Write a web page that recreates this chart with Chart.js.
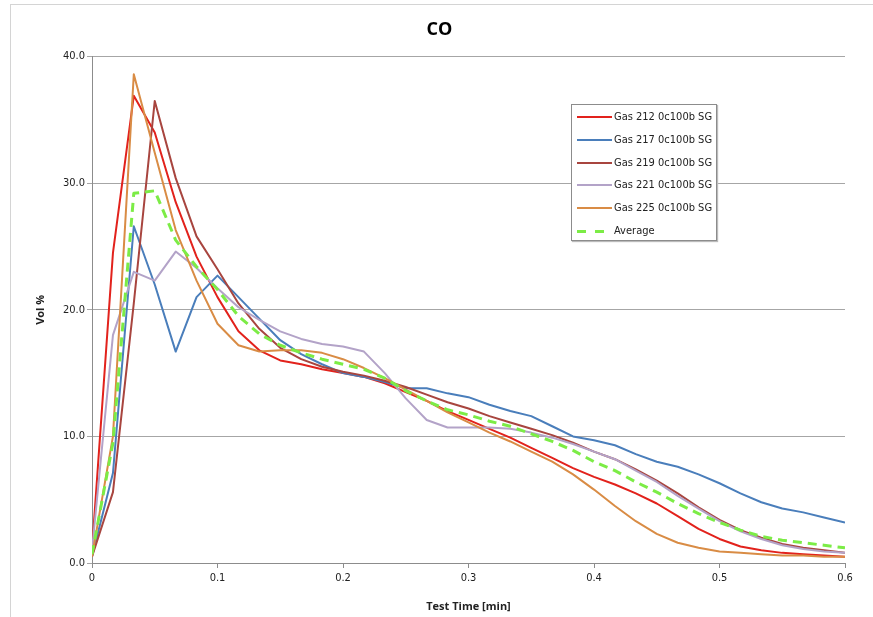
<!DOCTYPE html>
<html>
<head>
<meta charset="utf-8">
<script src="https://cdn.jsdelivr.net/npm/chart.js@4/dist/chart.umd.min.js"></script>
<style>
  body { margin: 0; background: #fff; }
  #wrap { position: relative; width: 873px; height: 617px; overflow: hidden; }
  #frame { position: absolute; left: 10px; top: 4px; right: -5px; bottom: -5px; border: 1px solid #d4d4d4; }
  canvas { position: absolute; left: 0; top: 0; }
  #legend {
    position: absolute; left: 571px; top: 104px; width: 144px; height: 135px;
    border: 1px solid #8c8c8c; background: #fff; box-shadow: 1px 1px 1px #bbb;
    font: 11px "Liberation Sans Narrow", "DejaVu Sans Condensed", "Liberation Sans", sans-serif; color: #222;
  }
  .item { position: absolute; left: 5px; height: 14px; line-height: 14px; white-space: nowrap; }
  .swatch { display: inline-block; width: 35px; height: 2px; vertical-align: middle; margin-right: 2px; }
</style>
</head>
<body>
<div id="wrap">
  <div id="frame"></div>
  <canvas id="coChart" width="873" height="617"></canvas>
  <div id="legend"></div>
</div>
<script>
// test time in minutes (one reading per second)
const times = [0, 0.0167, 0.0333, 0.05, 0.0667, 0.0833, 0.1, 0.1167, 0.1333, 0.15, 0.1667, 0.1833,
  0.2, 0.2167, 0.2333, 0.25, 0.2667, 0.2833, 0.3, 0.3167, 0.3333, 0.35, 0.3667, 0.3833,
  0.4, 0.4167, 0.4333, 0.45, 0.4667, 0.4833, 0.5, 0.5167, 0.5333, 0.55, 0.5667, 0.5833, 0.6];

const gas212 = [1.0, 24.5, 36.9, 34.0, 28.5, 24.2, 21.0, 18.3, 16.8, 16.0, 15.7, 15.3,
  15.0, 14.7, 14.2, 13.5, 12.8, 12.0, 11.3, 10.6, 9.9, 9.1, 8.3, 7.5,
  6.8, 6.2, 5.5, 4.7, 3.7, 2.7, 1.9, 1.3, 1.0, 0.8, 0.7, 0.6, 0.5];
const gas217 = [0.5, 7.1, 26.6, 22.0, 16.7, 21.0, 22.7, 21.0, 19.3, 17.6, 16.5, 15.7,
  15.0, 14.7, 14.3, 13.8, 13.8, 13.4, 13.1, 12.5, 12.0, 11.6, 10.8, 10.0,
  9.7, 9.3, 8.6, 8.0, 7.6, 7.0, 6.3, 5.5, 4.8, 4.3, 4.0, 3.6, 3.2];
const gas219 = [0.5, 5.6, 20.5, 36.5, 30.4, 25.8, 23.2, 20.5, 18.5, 17.0, 16.1, 15.5,
  15.1, 14.8, 14.4, 13.9, 13.3, 12.7, 12.2, 11.6, 11.1, 10.6, 10.1, 9.5,
  8.8, 8.2, 7.4, 6.5, 5.5, 4.4, 3.4, 2.6, 2.0, 1.5, 1.2, 1.0, 0.8];
const gas221 = [1.0, 18.0, 23.0, 22.3, 24.6, 23.3, 21.7, 20.2, 19.2, 18.3, 17.7, 17.3,
  17.1, 16.7, 15.0, 13.0, 11.3, 10.7, 10.7, 10.7, 10.6, 10.3, 9.9, 9.4,
  8.8, 8.2, 7.3, 6.4, 5.3, 4.3, 3.3, 2.5, 1.9, 1.4, 1.1, 0.9, 0.8];
const gas225 = [0.5, 10.0, 38.6, 32.4, 26.3, 22.3, 18.9, 17.2, 16.7, 16.8, 16.8, 16.6,
  16.1, 15.4, 14.6, 13.7, 12.8, 11.9, 11.1, 10.3, 9.6, 8.8, 8.0, 7.0,
  5.8, 4.5, 3.3, 2.3, 1.6, 1.2, 0.9, 0.8, 0.7, 0.6, 0.6, 0.5, 0.5];
const average = [0.7, 9.5, 29.2, 29.4, 25.5, 23.4, 21.6, 19.5, 18.1, 17.2, 16.6, 16.1,
  15.7, 15.3, 14.6, 13.6, 12.8, 12.1, 11.7, 11.2, 10.8, 10.2, 9.6, 8.9,
  8.0, 7.3, 6.4, 5.6, 4.7, 3.9, 3.2, 2.6, 2.1, 1.8, 1.6, 1.4, 1.2];

const seriesNames = ['Gas 212 0c100b SG', 'Gas 217 0c100b SG', 'Gas 219 0c100b SG',
  'Gas 221 0c100b SG', 'Gas 225 0c100b SG', 'Average'];
const seriesColors = ['#e2221c', '#4a7ebb', '#a8453f', '#b3a3c8', '#d98c45', '#7cec46'];
const seriesValues = [gas212, gas217, gas219, gas221, gas225, average];

const xTicks = [0, 0.1, 0.2, 0.3, 0.4, 0.5, 0.6];
const yTicks = [0, 10, 20, 30, 40];

const tickFont = { family: '"Liberation Sans Narrow", "DejaVu Sans Condensed", "Liberation Sans", sans-serif', size: 11 };

const datasets = seriesValues.map((vals, i) => {
  const isAvg = seriesNames[i] === 'Average';
  return {
    label: seriesNames[i],
    data: vals.map((v, j) => ({ x: times[j], y: v })),
    borderColor: seriesColors[i],
    borderWidth: isAvg ? 3 : 2,
    borderDash: isAvg ? [9, 6] : [],
    pointRadius: 0,
    tension: 0,
    borderJoinStyle: 'round',
    fill: false
  };
});
// average is drawn on top, Gas 212 last among the rest
datasets.forEach((d, i) => { d.order = d.label === 'Average' ? 0 : 6 - i; });

new Chart(document.getElementById('coChart'), {
  type: 'line',
  data: { datasets },
  options: {
    responsive: false,
    animation: false,
    layout: { padding: { top: 19, left: 34, right: 28, bottom: 4 } },
    plugins: {
      legend: { display: false },
      tooltip: { enabled: false },
      title: {
        display: true,
        text: 'CO',
        color: '#000',
        font: { family: '"Open Sans", "Liberation Sans", sans-serif', size: 18, weight: 'bold' },
        padding: { top: 0, bottom: 16 }
      }
    },
    scales: {
      x: {
        type: 'linear',
        min: 0,
        max: 0.6,
        afterBuildTicks: s => { s.ticks = xTicks.map(v => ({ value: v })); },
        afterFit: s => { s.height = 50; },
        grid: { drawOnChartArea: false, drawTicks: true, tickLength: 5, color: '#8c8c8c' },
        border: { color: '#8c8c8c' },
        ticks: {
          color: '#222', font: tickFont, padding: 4, maxRotation: 0,
          callback: v => v === 0 ? '0' : v.toFixed(1)
        },
        title: {
          display: true, text: 'Test Time [min]', color: '#222',
          font: { family: '"Open Sans", "Liberation Sans", sans-serif', size: 11, weight: 'bold' },
          padding: { top: 0, bottom: 0 }
        }
      },
      y: {
        min: 0,
        max: 40,
        afterBuildTicks: s => { s.ticks = yTicks.map(v => ({ value: v })); },
        afterFit: s => { s.width = 58; },
        grid: { color: '#a6a6a6', tickLength: 5, lineWidth: 1 },
        border: { color: '#8c8c8c' },
        ticks: { color: '#222', font: tickFont, padding: 2, callback: v => v.toFixed(1) },
        title: {
          display: true, text: 'Vol %', color: '#222',
          font: { family: '"Open Sans", "Liberation Sans", sans-serif', size: 11, weight: 'bold' },
          padding: { top: 0, bottom: 0 }
        }
      }
    }
  }
});

// legend box drawn as html inside the plot
const legend = document.getElementById('legend');
seriesNames.forEach((name, i) => {
  const item = document.createElement('div');
  item.className = 'item';
  item.style.top = (5 + i * 22.8) + 'px';
  const sw = document.createElement('span');
  sw.className = 'swatch';
  if (name === 'Average') {
    sw.style.height = '3px';
    sw.style.background = `repeating-linear-gradient(90deg, ${seriesColors[i]} 0 9px, transparent 9px 18px)`;
  } else {
    sw.style.background = seriesColors[i];
  }
  item.appendChild(sw);
  item.appendChild(document.createTextNode(name));
  legend.appendChild(item);
});
</script>
</body>
</html>
